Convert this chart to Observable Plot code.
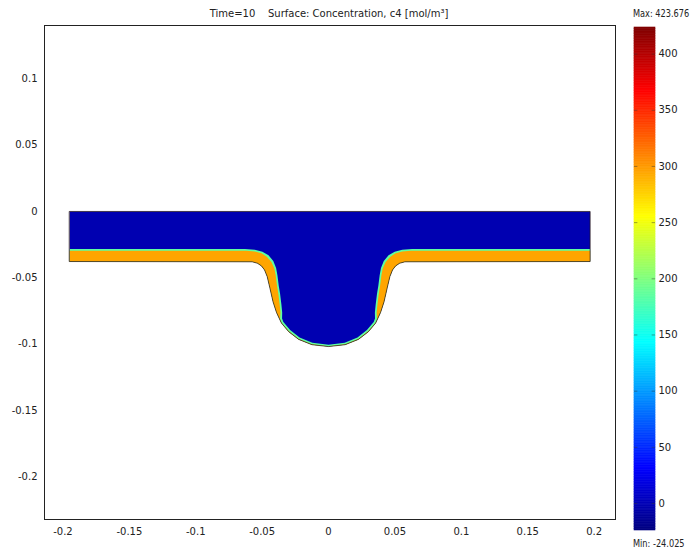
<!DOCTYPE html>
<html>
<head>
<meta charset="utf-8">
<script src="https://cdn.jsdelivr.net/npm/d3@7"></script>
<script src="https://cdn.jsdelivr.net/npm/@observablehq/plot@0.6"></script>
<style>
  html, body { margin: 0; padding: 0; background: #fff; }
  #wrap { position: relative; width: 693px; height: 551px; overflow: hidden; font-family: "DejaVu Sans", sans-serif; color: #222; }
  #wrap svg { position: absolute; }
  .lbl { position: absolute; font-size: 10px; white-space: pre; line-height: 12px; }
</style>
</head>
<body>
<div id="wrap"></div>
<script>
// ---- chart data ----
const titleText = "Time=10    Surface: Concentration, c4 [mol/m³]";
const cMin = -24.025, cMax = 423.676;
const xTicks = [-0.2, -0.15, -0.1, -0.05, 0, 0.05, 0.1, 0.15, 0.2];
const yTicks = [0.1, 0.05, 0, -0.05, -0.1, -0.15, -0.2];
const cbTicks = [0, 50, 100, 150, 200, 250, 300, 350, 400];
const jetStops = ["#00007f", "#0000ff", "#007fff", "#00ffff", "#7fff7f", "#ffff00", "#ff7f00", "#ff0000", "#7f0000"];

// geometry: top edge of the domain
const topX = [-0.195, 0.197];
const topY = [0, 0];
// bottom boundary (trench profile), left to right
const outerX = [-0.195, -0.0575, -0.0535, -0.0505, -0.0482, -0.0462, -0.0442, -0.0418, -0.0392, -0.0355, -0.0300, -0.0225, -0.0125, 0, 0.0125, 0.0225, 0.0300, 0.0355, 0.0392, 0.0418, 0.0442, 0.0462, 0.0482, 0.0505, 0.0535, 0.0575, 0.197];
const outerY = [-0.0377, -0.0379, -0.0390, -0.0410, -0.0440, -0.0490, -0.0575, -0.0680, -0.0760, -0.0840, -0.0905, -0.0963, -0.1003, -0.1017, -0.1003, -0.0963, -0.0905, -0.0840, -0.0760, -0.0680, -0.0575, -0.0490, -0.0440, -0.0410, -0.0390, -0.0379, -0.0377];
// upper edge of the transition (cyan/green) layer
const cyanX = [-0.195, -0.063, -0.0555, -0.0498, -0.0452, -0.0416, -0.0395, -0.0385, -0.0375, -0.0365, -0.0355, -0.0349, -0.0350, -0.0340, -0.0289, -0.0218, -0.0122, 0, 0.0122, 0.0218, 0.0289, 0.0340, 0.0350, 0.0349, 0.0355, 0.0365, 0.0375, 0.0385, 0.0395, 0.0416, 0.0452, 0.0498, 0.0555, 0.063, 0.197];
const cyanY = [-0.0282, -0.0282, -0.0289, -0.0303, -0.0330, -0.0372, -0.0425, -0.0480, -0.0560, -0.0620, -0.0700, -0.0760, -0.0805, -0.0832, -0.0893, -0.0949, -0.0989, -0.1003, -0.0989, -0.0949, -0.0893, -0.0832, -0.0805, -0.0760, -0.0700, -0.0620, -0.0560, -0.0480, -0.0425, -0.0372, -0.0330, -0.0303, -0.0289, -0.0282, -0.0282];
// upper edge of the deposited (orange) layer
const orangeX = [-0.195, -0.062, -0.0555, -0.0505, -0.0465, -0.0430, -0.0408, -0.0398, -0.0388, -0.0378, -0.0368, -0.0362, -0.0365, -0.0353, -0.0298, -0.0224, -0.0125, 0, 0.0125, 0.0224, 0.0298, 0.0353, 0.0365, 0.0362, 0.0368, 0.0378, 0.0388, 0.0398, 0.0408, 0.0430, 0.0465, 0.0505, 0.0555, 0.062, 0.197];
const orangeY = [-0.0296, -0.0296, -0.0302, -0.0315, -0.0340, -0.0380, -0.0430, -0.0480, -0.0560, -0.0620, -0.0700, -0.0760, -0.0810, -0.0838, -0.0902, -0.0960, -0.1000, -0.1014, -0.1000, -0.0960, -0.0902, -0.0838, -0.0810, -0.0760, -0.0700, -0.0620, -0.0560, -0.0480, -0.0430, -0.0380, -0.0340, -0.0315, -0.0302, -0.0296, -0.0296];
// concentration of each region
const regionNames = ["electrolyte", "transition", "deposit"];
const regionValues = [-2, 185, 295];

// ---- build polygons ----
const pts = (xs, ys) => xs.map((x, i) => ({x, y: ys[i]}));
const outer = pts(outerX, outerY);
const polys = [
  {name: regionNames[0], v: regionValues[0], ring: [...pts(topX, topY), ...outer.slice().reverse()]},
  {name: regionNames[1], v: regionValues[1], ring: [...outer, ...pts(cyanX, cyanY).reverse()]},
  {name: regionNames[2], v: regionValues[2], ring: [...outer, ...pts(orangeX, orangeY).reverse()]}
];
const rows = polys.flatMap(p => p.ring.map(q => ({...q, layer: p.name, v: p.v})));
const outline = polys[0].ring;

const jet = d3.piecewise(d3.interpolateRgb, jetStops);
const colorScale = {type: "linear", domain: [cMin, cMax], interpolate: t => jet(t)};
const fontStyle = {fontFamily: "DejaVu Sans, sans-serif", fontSize: "10px", color: "#222", background: "transparent", overflow: "visible"};

const main = Plot.plot({
  width: 693, height: 551,
  marginLeft: 44, marginRight: 78, marginTop: 25, marginBottom: 32,
  x: {domain: [-0.2139, 0.2161], label: null},
  y: {domain: [-0.2319, 0.140], label: null},
  color: colorScale,
  style: fontStyle,
  marks: [
    Plot.line(rows, {x: "x", y: "y", z: "layer", fill: "v", stroke: "none", curve: "linear-closed"}),
    Plot.line(outline, {x: "x", y: "y", stroke: "#2a1a10", strokeWidth: 1, strokeOpacity: 0.7, curve: "linear-closed"}),
    Plot.frame({stroke: "#222"}),
    Plot.axisX({ticks: xTicks, tickSize: 0, tickPadding: 8, tickFormat: d => String(d), label: null}),
    Plot.axisY({ticks: yTicks, tickSize: 0, tickPadding: 7, tickFormat: d => String(d), label: null})
  ]
});

// colour bar
const nSlices = 300;
const slices = d3.range(nSlices).map(i => ({
  y1: cMin + (cMax - cMin) * i / nSlices,
  y2: cMin + (cMax - cMin) * (i + 1) / nSlices
}));
const bar = Plot.plot({
  width: 93, height: 551,
  marginLeft: 34, marginRight: 38, marginTop: 27, marginBottom: 21,
  x: {domain: [0, 1], axis: null},
  y: {domain: [cMin, cMax], label: null},
  color: colorScale,
  style: fontStyle,
  marks: [
    Plot.rect(slices, {x1: 0, x2: 1, y1: "y1", y2: "y2", fill: d => (d.y1 + d.y2) / 2, stroke: d => (d.y1 + d.y2) / 2, strokeWidth: 0.6}),
    Plot.ruleY(cbTicks, {x1: 0, x2: 0.16, stroke: "#333", strokeOpacity: 0.45}),
    Plot.ruleY(cbTicks, {x1: 0.84, x2: 1, stroke: "#333", strokeOpacity: 0.45}),
    Plot.axisY({ticks: cbTicks, anchor: "right", tickSize: 0, tickPadding: 3, tickFormat: d => String(d), label: null})
  ]
});

const wrap = document.getElementById("wrap");
main.style.left = "0px"; main.style.top = "0px";
bar.style.left = "600px"; bar.style.top = "0px";
wrap.appendChild(main);
wrap.appendChild(bar);

function addLabel(text, left, top, center, squeeze) {
  const d = document.createElement("div");
  d.className = "lbl";
  d.textContent = text;
  d.style.top = top + "px";
  d.style.left = left + "px";
  if (center) d.style.transform = "translateX(-50%)";
  if (squeeze) { d.style.transformOrigin = "0 50%"; d.style.transform = "scaleX(" + squeeze + ")"; }
  wrap.appendChild(d);
}
addLabel(titleText, 329, 8, true);
addLabel("Max: " + cMax.toFixed(3), 633, 8, false, 0.82);
addLabel("Min: " + cMin.toFixed(3), 633, 538, false, 0.82);
</script>
</body>
</html>
